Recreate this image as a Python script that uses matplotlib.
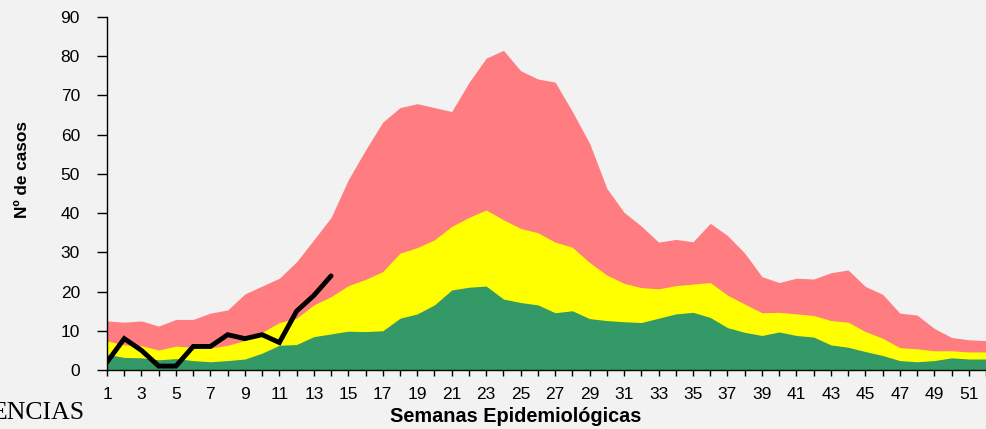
import numpy as np
import matplotlib.pyplot as plt

# semanas epidemiologicas
semanas = np.arange(1, 53)

# limites del canal endemico
seguridad = [4.0, 3.2, 3.1, 2.6, 2.9, 2.4, 2.1, 2.4, 2.8, 4.3,
             6.3, 6.5, 8.5, 9.2, 9.9, 9.8, 10.0, 13.2, 14.3, 16.6,
             20.4, 21.1, 21.4, 18.1, 17.2, 16.6, 14.6, 15.1, 13.1, 12.6,
             12.3, 12.1, 13.2, 14.3, 14.7, 13.4, 10.8, 9.6, 8.8, 9.7,
             8.8, 8.4, 6.4, 5.8, 4.7, 3.7, 2.4, 2.1, 2.4, 3.1,
             2.8, 2.8]
alerta = [7.4, 6.4, 6.2, 5.1, 6.1, 5.8, 5.6, 6.3, 7.5, 9.6,
          12.1, 13.2, 16.6, 18.7, 21.5, 23.1, 25.1, 29.8, 31.2, 33.2,
          36.6, 38.9, 40.8, 38.3, 36.1, 35.0, 32.6, 31.3, 27.4, 24.2,
          22.1, 21.0, 20.7, 21.5, 21.9, 22.3, 19.1, 16.8, 14.6, 14.7,
          14.3, 13.9, 12.6, 12.2, 9.8, 8.1, 5.7, 5.4, 4.9, 4.9,
          4.6, 4.6]
epidemia = [12.5, 12.2, 12.5, 11.2, 12.9, 12.9, 14.5, 15.3, 19.4, 21.4,
            23.4, 27.6, 33.2, 38.9, 48.5, 56.1, 63.2, 66.9, 67.9, 66.9,
            65.9, 73.3, 79.5, 81.5, 76.3, 74.2, 73.4, 65.9, 57.8, 46.3,
            40.2, 36.7, 32.6, 33.3, 32.7, 37.4, 34.3, 29.8, 23.8, 22.3,
            23.4, 23.2, 24.8, 25.5, 21.3, 19.3, 14.5, 14.0, 10.6, 8.3,
            7.7, 7.5]

# casos del año actual
semanas_actual = np.arange(1, 15)
casos = [2, 8, 5, 1, 1, 6, 6, 9, 8, 9, 7, 15, 19, 24]

fondo = '#F2F2F2'
plt.rcParams['font.family'] = ['Liberation Sans', 'DejaVu Sans']

fig = plt.figure(figsize=(9.86, 4.29), dpi=100, facecolor=fondo)
ax = fig.add_axes([107/986, 59/429, 1 - 107/986, 353/429])
ax.set_facecolor(fondo)

ax.fill_between(semanas, 0, epidemia, color='#FF7C80', linewidth=0)
ax.fill_between(semanas, 0, alerta, color='#FFFF00', linewidth=0)
ax.fill_between(semanas, 0, seguridad, color='#339966', linewidth=0)
ax.plot(semanas_actual, casos, color='black', linewidth=3.5, solid_capstyle='round', solid_joinstyle='miter')

ax.set_xlim(1, 51.69)
ax.set_ylim(0, 90)
ax.set_yticks(range(0, 91, 10))
ax.set_xticks(semanas)
ax.set_xticklabels([str(s) if s % 2 == 1 else '' for s in semanas])
ax.tick_params(axis='x', direction='out', length=4, width=1, pad=8, labelsize=12.5)
ax.tick_params(axis='y', direction='out', length=7, width=1, pad=12.5, labelsize=12.5)

for lado in ['top', 'right']:
    ax.spines[lado].set_visible(False)
ax.spines['left'].set_linewidth(1)
ax.spines['bottom'].set_linewidth(1)
ax.spines['bottom'].set_bounds(1, 52)

fig.text(516/986, 1 - 417/429, 'Semanas Epidemiológicas', ha='center', va='center',
         fontsize=14.3, fontweight='bold')
fig.text(23/986, 1 - 170/429, 'Nº de casos', ha='center', va='center',
         rotation=90, fontsize=12.4, fontweight='bold')
fig.text(84/986, 1 - 413/429, 'ENCIAS', ha='right', va='center',
         fontsize=18.5, family=['Liberation Serif', 'DejaVu Serif'])

fig.savefig('out.png', dpi=100, facecolor=fondo)
